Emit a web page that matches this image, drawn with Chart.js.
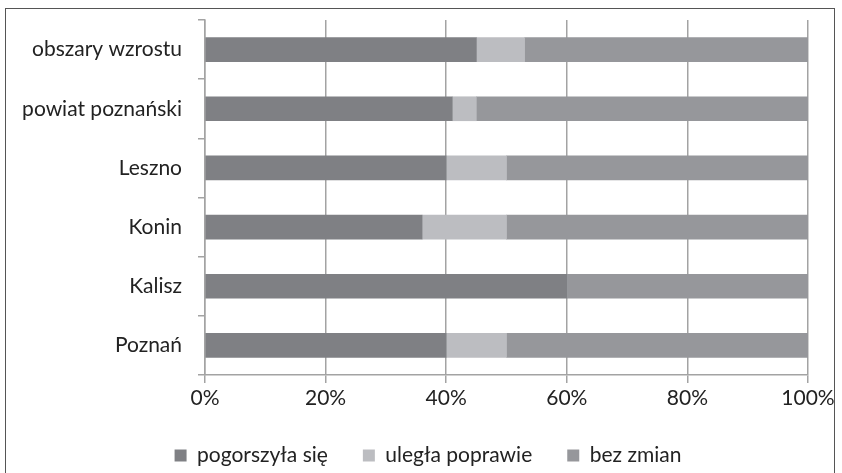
<!DOCTYPE html>
<html>
<head>
<meta charset="utf-8">
<script src="https://cdn.jsdelivr.net/npm/chart.js@4"></script>
<style>
  html, body { margin: 0; padding: 0; background: #fff; }
  #wrap { position: relative; width: 842px; height: 473px; }
  #frame { position: absolute; left: 5px; top: 8px; width: 830px; height: 470px; border: 1.5px solid #555; box-sizing: border-box; }
  canvas { position: absolute; left: 0; top: 0; }
</style>
</head>
<body>
<div id="wrap">
  <div id="frame"></div>
  <canvas id="myChart" width="842" height="473"></canvas>
</div>
<script>
; ((D, log = arg => console.log(arg)) => {

  // categories, top to bottom
  let regions = [
    "obszary wzrostu",
    "powiat poznański",
    "Leszno",
    "Konin",
    "Kalisz",
    "Poznań",
  ];

  let seriesNames = ["pogorszyła się", "uległa poprawie", "bez zmian"];

  let worse = [45, 41, 40, 36, 60, 40];
  let better = [8, 4, 10, 14, 0, 10];
  let same = [47, 55, 50, 50, 40, 50];

  let xTicks = [0, 20, 40, 60, 80, 100];

  let sColors = ["#7f8084", "#bcbdc1", "#96979b"];
  let font = "Lato, 'Liberation Sans', sans-serif";
  let gridColor = "#a3a3a3";

  let values = [worse, better, same];
  let objs = [];
  for (let i = 0; i < seriesNames.length; i++) {
    objs.push({
      label: seriesNames[i],
      backgroundColor: sColors[i],
      data: values[i],
      barThickness: 24,
      borderWidth: 0,
    });
  }

  // legend sits a bit right of the canvas centre in the original
  let shiftLegend = {
    id: 'shiftLegend',
    afterLayout: chart => {
      chart.legend.left += 24;
      chart.legend.right += 24;
    },
  };

  var ctx = D.querySelector('#myChart').getContext('2d');

  let chart = new Chart(ctx, {
    type: 'bar',
    data: {
      labels: regions,
      datasets: objs,
    },
    plugins: [shiftLegend],
    options: {
      indexAxis: 'y',
      responsive: false,
      animation: false,
      layout: { padding: { left: 0, right: 34, top: 20, bottom: -3 } },
      plugins: {
        tooltip: { enabled: false },
        legend: {
          position: 'bottom',
          labels: {
            font: { family: font, size: 21 },
            color: "#222",
            boxWidth: 12,
            boxHeight: 12,
            padding: 35,
          },
        },
      },
      scales: {
        x: {
          stacked: true,
          min: 0,
          max: 100,
          afterBuildTicks: s => { s.ticks = xTicks.map(v => ({ value: v })); },
          afterFit: s => { s.height = 35; },
          grid: { color: gridColor, lineWidth: 1.5, tickLength: 8 },
          border: { color: gridColor, width: 1.5 },
          ticks: {
            font: { family: font, size: 21 },
            color: "#222",
            padding: 3,
            callback: v => v + '%',
          },
        },
        y: {
          stacked: true,
          afterFit: s => {
            s.width = 205;
            s.paddingTop = 0;
            s.paddingBottom = 0;
          },
          grid: { offset: true, drawOnChartArea: false, color: gridColor, lineWidth: 1.5, tickLength: 7 },
          border: { color: gridColor, width: 1.5 },
          ticks: {
            font: { family: font, size: 21 },
            color: "#222",
            padding: 16,
          },
        },
      },
    },
  });
})(document)
</script>
</body>
</html>
